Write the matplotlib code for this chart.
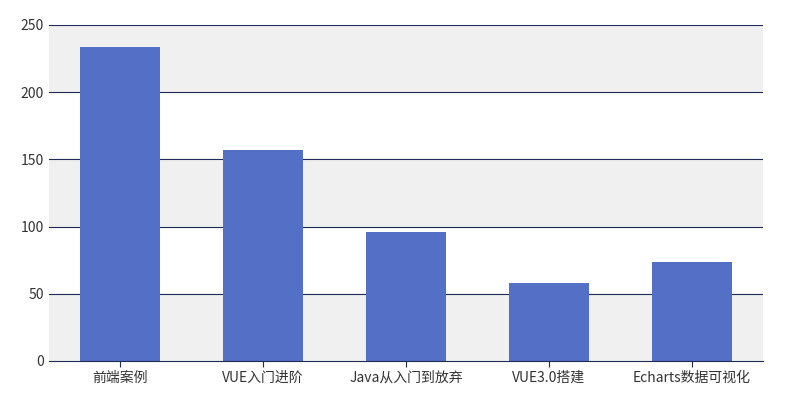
import matplotlib.pyplot as plt

plt.rcParams['font.family'] = ['Noto Sans CJK SC', 'DejaVu Sans']

categories = ['前端案例', 'VUE入门进阶', 'Java从入门到放弃', 'VUE3.0搭建', 'Echarts数据可视化']
values = [234, 157, 96, 58, 74]
yticks = [0, 50, 100, 150, 200, 250]

fig = plt.figure(figsize=(7.89, 4.13), dpi=100)
ax = fig.add_axes([49 / 789, 1 - 361 / 413, 714 / 789, 336 / 413])

# alternating background bands
for i in range(len(yticks) - 1):
    if i % 2 == 0:
        ax.axhspan(yticks[i], yticks[i + 1], color='#f0f0f0', zorder=0)
for t in yticks[1:]:
    ax.axhline(t, color='#1f2a55', lw=0.8, zorder=1)

x = range(len(categories))
ax.bar(x, values, width=0.56, color='#5470c6', zorder=2)

ax.set_xlim(-0.5, len(categories) - 0.5)
ax.set_ylim(0, 250)
ax.set_yticks(yticks)
ax.set_xticks(list(x))
ax.set_xticklabels(categories)
ax.tick_params(axis='both', length=0, labelsize=10, colors='#333333')
ax.tick_params(axis='x', length=4, color='#1f2a55', pad=3)
for s in ['top', 'right', 'left']:
    ax.spines[s].set_visible(False)
ax.spines['bottom'].set_color('#1f2a55')

fig.savefig('out.png')
